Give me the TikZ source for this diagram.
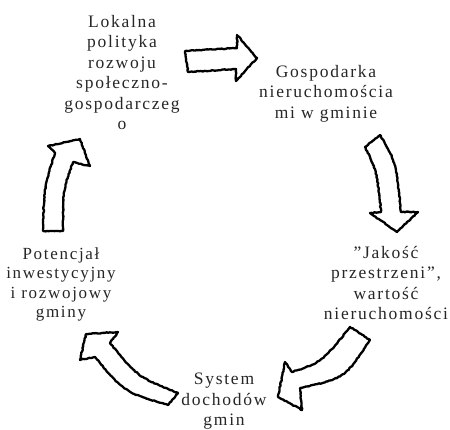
\documentclass[tikz,border=0pt]{standalone}
\usepackage{fontspec}
\setmainfont[LetterSpace=10]{Liberation Serif}
\usetikzlibrary{decorations.pathmorphing}
\tikzset{
  lbl/.style={align=center, anchor=north, inner sep=0pt, text=black!85,
    font=\rmfamily\fontsize{17.5}{20.5}\selectfont},
  lblsmall/.style={lbl, font=\rmfamily\fontsize{17}{19.5}\selectfont},
  blockarrow/.style={draw=black, fill=white, line width=2.3pt, line join=round,
    decorate, decoration={random steps, segment length=1.6pt, amplitude=0.45pt}}
}
\begin{document}
\begin{tikzpicture}[x=1pt,y=-1pt]
\pgfmathsetseed{7}
\useasboundingbox (0,0) rectangle (450,429);
% labels
\node[lbl] (polityka) at (122,15) {Lokalna\\polityka\\rozwoju\\społeczno-\\gospodarczeg\\o};
\node[lbl] (gospodarka) at (326,65) {Gospodarka\\nieruchomościa\\mi w gminie};
\node[lbl] (jakosc) at (386,246) {\symbol{34}Jakość\\przestrzeni\symbol{34},\\wartość\\nieruchomości};
\node[lbl] (dochody) at (224,373) {System\\dochodów\\gmin};
\node[lblsmall] (potencjal) at (61,247) {Potencjał\\inwestycyjny\\i rozwojowy\\gminy};
% block arrows
% polityka -> gospodarka
\draw[blockarrow] (185,51) -- (237,48) -- (237,35) -- (257,58) -- (236,81) -- (236,69) -- (188,72) -- cycle;
% gospodarka -> jakosc
\draw[blockarrow] (365,147) .. controls (377,172) .. (381,212) -- (370,213) -- (397,232) -- (418,212)
  -- (401,212) .. controls (396,162) .. (380,135) -- cycle;
% jakosc -> dochody
\draw[blockarrow] (350,327) .. controls (322,362) .. (292,372) -- (285,362) -- (278,397) -- (302,410)
  -- (300,388) .. controls (345,378) .. (370,340) -- cycle;
% dochody -> potencjal
\draw[blockarrow] (178,393) .. controls (138,377) .. (110,343) -- (118,332) -- (86,334) -- (80,360)
  -- (95,357) .. controls (124,392) .. (168,405) -- cycle;
% potencjal -> polityka
\draw[blockarrow] (43,231) .. controls (44,188) .. (55,153) -- (48,146) -- (80,139) -- (90,166)
  -- (73,162) .. controls (63,190) .. (63,231) -- cycle;
\end{tikzpicture}
\end{document}
